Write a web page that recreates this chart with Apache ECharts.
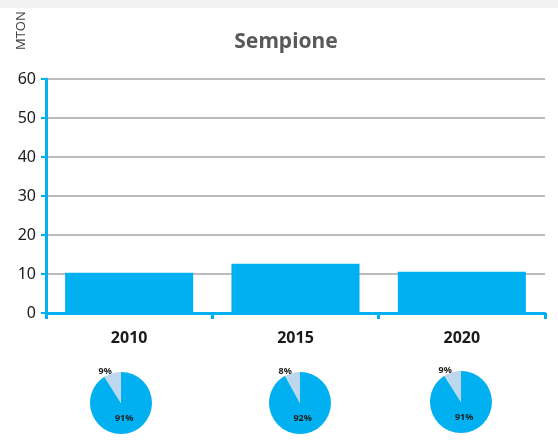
<!DOCTYPE html>
<html>
<head>
<meta charset="utf-8">
<script src="https://cdn.jsdelivr.net/npm/echarts@6/dist/echarts.min.js"></script>
<style>
html,body{margin:0;padding:0;background:#fff;}
#chart{width:558px;height:441px;}
</style>
</head>
<body>
<div id="chart"></div>
<script>
const years = ['2010', '2015', '2020'];
const mton = [10.3, 12.6, 10.6];
const yTicks = [0, 10, 20, 30, 40, 50, 60];
const mainShare = [91, 92, 91];
const otherShare = [9, 8, 9];
const pieCenters = [[121, 403], [300, 403], [461, 402]];

const chart = echarts.init(document.getElementById('chart'));
const font = 'Noto Sans';
const pieSeries = years.map((y, i) => ({
  type: 'pie',
  center: pieCenters[i],
  radius: 31,
  startAngle: 90,
  clockwise: true,
  silent: true,
  animation: false,
  labelLine: { show: false, length: 2, length2: 0 },
  data: [
    { value: mainShare[i], name: 'main', itemStyle: { color: '#00b0f0' },
      label: { show: true, position: 'inside', formatter: '{c}%', color: '#1a1a1a', fontSize: 9, fontWeight: 'bold', fontFamily: font, offset: [-2, -2] } },
    { value: otherShare[i], name: 'other', itemStyle: { color: '#bdd7ee' },
      label: { show: true, position: 'outside', formatter: '{c}%', color: '#1a1a1a', fontSize: 9, fontWeight: 'bold', fontFamily: font, distanceToLabelLine: 0, padding: [0, 0, 0, 0] } }
  ]
}));

chart.setOption({
  animation: false,
  backgroundColor: '#ffffff',
  title: {
    text: 'Sempione', left: 281, top: 27, textAlign: 'center',
    textStyle: { fontFamily: font, fontSize: 21, fontWeight: 'bold', color: '#595959' }
  },
  graphic: [
    { type: 'rect', left: 0, top: 0, shape: { width: 558, height: 8 }, style: { fill: '#f2f2f2' }, z: -1 },
    { type: 'text', x: 15, y: 50, rotation: Math.PI / 2,
      style: { text: 'MTON', font: '13px "Open Sans"', fill: '#404040', textVerticalAlign: 'top' } }
  ],
  grid: { left: 46, right: 13, top: 79, bottom: 128 },
  xAxis: {
    type: 'category', data: years,
    axisLine: { lineStyle: { color: '#00b0f0', width: 3 } },
    axisTick: { show: true, length: 6, lineStyle: { color: '#00b0f0', width: 3 } },
    axisLabel: { color: '#1a1a1a', fontSize: 16, fontWeight: 'bold', fontFamily: font, margin: 17 }
  },
  yAxis: {
    type: 'value', min: yTicks[0], max: yTicks[yTicks.length - 1], interval: 10,
    axisLine: { show: true, lineStyle: { color: '#00b0f0', width: 3 } },
    axisTick: { show: true, length: 5, lineStyle: { color: '#00b0f0', width: 2 } },
    axisLabel: { color: '#1a1a1a', fontSize: 16, fontFamily: font, margin: 10 },
    splitLine: { lineStyle: { color: '#a6a6a6', width: 1.5 } }
  },
  series: [
    { type: 'bar', data: mton, barCategoryGap: '23%', itemStyle: { color: '#00b0f0' } },
    ...pieSeries
  ]
});
</script>
</body>
</html>
